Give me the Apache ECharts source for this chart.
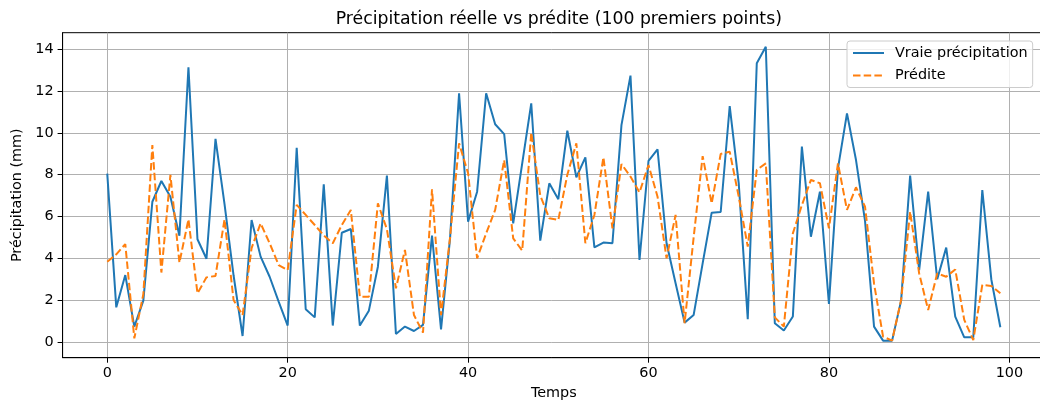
<!DOCTYPE html>
<html>
<head>
<meta charset="utf-8">
<script src="https://cdn.jsdelivr.net/npm/echarts@6/dist/echarts.min.js"></script>
<style>
html,body{margin:0;padding:0;background:#fff;overflow:hidden;}
#chart{width:1040px;height:402px;}
</style>
</head>
<body>
<div id="chart"></div>
<script>
const titleText = "Précipitation réelle vs prédite (100 premiers points)";
const xName = "Temps";
const yName = "Précipitation (mm)";
const seriesNames = ["Vraie précipitation", "Prédite"];
const xTicks = [0, 20, 40, 60, 80, 100];
const yTicks = [0, 2, 4, 6, 8, 10, 12, 14];
const trueValues = [
  8.05, 1.67, 3.21, 0.75, 1.99, 6.71, 7.70, 6.95, 5.09, 13.13,
  4.92, 3.99, 9.71, 6.6, 3.2, 0.3, 5.84, 4.09, 3.13, 1.94,
  0.80, 9.29, 1.58, 1.19, 7.54, 0.80, 5.23, 5.41, 0.80, 1.51,
  3.61, 7.96, 0.40, 0.75, 0.54, 0.83, 5.09, 0.62, 4.96, 11.89,
  5.76, 7.19, 11.89, 10.41, 9.94, 5.68, 8.54, 11.41, 4.85, 7.59,
  6.83, 10.10, 7.88, 8.83, 4.53, 4.76, 4.73, 10.37, 12.73, 3.93,
  8.66, 9.21, 4.73, 2.82, 0.94, 1.30, 3.77, 6.19, 6.22, 11.28,
  7.59, 1.10, 13.32, 14.11, 0.91, 0.56, 1.23, 9.34, 5.04, 7.19,
  1.83, 8.3, 10.93, 8.7, 5.8, 0.75, 0.08, 0.08, 1.99, 7.96,
  3.45, 7.19, 3.01, 4.52, 1.23, 0.24, 0.24, 7.27, 3.0, 0.72
];
const predValues = [
  3.85, 4.2, 4.69, 0.19, 2.3, 9.42, 3.33, 7.99, 3.80, 5.87,
  2.34, 3.10, 3.17, 5.87, 2.02, 1.30, 4.5, 5.68, 4.73, 3.69,
  3.45, 6.56, 6.08, 5.60, 5.1, 4.73, 5.6, 6.32, 2.18, 2.18,
  6.63, 5.4, 2.58, 4.41, 1.30, 0.46, 7.30, 1.30, 5.0, 9.50,
  8.07, 4.01, 5.20, 6.32, 8.70, 4.96, 4.38, 10.01, 7.0, 5.92,
  5.84, 8.0, 9.50, 4.73, 6.08, 8.83, 5.44, 8.51, 7.91, 7.16,
  8.46, 6.95, 4.01, 6.08, 0.91, 5.0, 8.89, 6.63, 8.99, 9.10,
  6.95, 4.57, 8.23, 8.54, 1.19, 0.75, 5.20, 6.55, 7.75, 7.59,
  5.44, 8.54, 6.32, 7.40, 6.48, 2.8, 0.27, 0.08, 2.02, 6.24,
  3.29, 1.54, 3.29, 3.13, 3.48, 1.07, 0.11, 2.74, 2.69, 2.34
];

const FONT = "DejaVu Sans";
const FS = 14.4;
const toPairs = arr => arr.map((v, i) => [i, v]);

const chart = echarts.init(document.getElementById('chart'), null, {renderer: 'canvas'});
chart.setOption({
  animation: false,
  backgroundColor: '#ffffff',
  title: {
    text: titleText,
    left: 553.8,
    textAlign: 'center',
    top: 6,
    textStyle: {fontFamily: FONT, fontSize: 17.3, fontWeight: 'normal', color: '#000'}
  },
  legend: {
    orient: 'vertical',
    left: 847,
    top: 41,
    padding: [5, 5, 5, 5],
    itemWidth: 31,
    itemHeight: 14,
    itemGap: 8.5,
    backgroundColor: 'rgba(255,255,255,0.8)',
    borderColor: '#cccccc',
    borderWidth: 1,
    borderRadius: 3,
    itemStyle: {opacity: 0},
    textStyle: {fontFamily: FONT, fontSize: FS, color: '#000', padding: [0, 0, 0, 6]},
    data: seriesNames
  },
  grid: {
    left: 62.6,
    top: 32.7,
    width: 982.4,
    height: 325,
    containLabel: false,
    outerBoundsMode: 'none',
    show: true,
    borderColor: '#000',
    borderWidth: 1,
    backgroundColor: 'transparent'
  },
  xAxis: {
    type: 'value',
    min: -4.95,
    max: 103.95,
    name: xName,
    nameLocation: 'middle',
    nameGap: 29,
    nameTextStyle: {fontFamily: FONT, fontSize: FS, color: '#000'},
    axisLine: {show: true, onZero: false, lineStyle: {color: '#000', width: 1}},
    axisTick: {show: true, length: 5, customValues: xTicks, lineStyle: {color: '#000', width: 1}},
    axisLabel: {customValues: xTicks, margin: 9, fontFamily: FONT, fontSize: FS, color: '#000'},
    splitLine: {show: true, customValues: xTicks, lineStyle: {color: '#b0b0b0', width: 1}}
  },
  yAxis: {
    type: 'value',
    min: -0.735,
    max: 14.78,
    name: yName,
    nameLocation: 'middle',
    nameGap: 38,
    nameTextStyle: {fontFamily: FONT, fontSize: FS, color: '#000'},
    axisLine: {show: true, onZero: false, lineStyle: {color: '#000', width: 1}},
    axisTick: {show: true, length: 5, customValues: yTicks, lineStyle: {color: '#000', width: 1}},
    axisLabel: {customValues: yTicks, margin: 9, fontFamily: FONT, fontSize: FS, color: '#000'},
    splitLine: {show: true, customValues: yTicks, lineStyle: {color: '#b0b0b0', width: 1}}
  },
  series: [
    {
      name: seriesNames[0],
      type: 'line',
      data: toPairs(trueValues),
      symbol: 'none',
      lineStyle: {color: '#1f77b4', width: 2},
      itemStyle: {color: '#1f77b4'},
      z: 2
    },
    {
      name: seriesNames[1],
      type: 'line',
      data: toPairs(predValues),
      symbol: 'none',
      lineStyle: {color: '#ff7f0e', width: 2, type: [7.5, 3.2]},
      itemStyle: {color: '#ff7f0e'},
      z: 3
    }
  ]
});
</script>
</body>
</html>
